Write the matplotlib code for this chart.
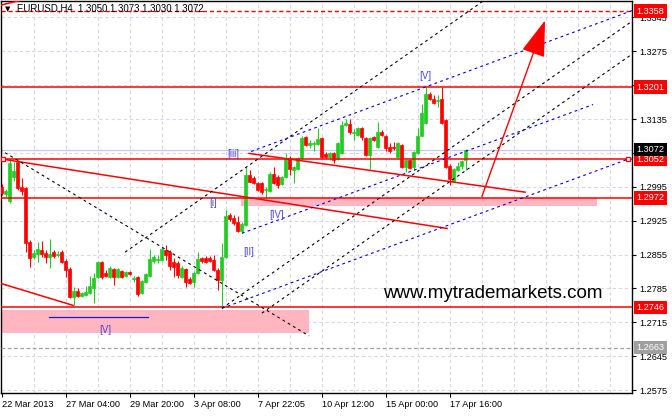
"""EURUSD H4 chart with Elliott wave markup, MT4 style."""

import matplotlib

matplotlib.use("Agg")
import matplotlib.pyplot as plt
from matplotlib.patches import Rectangle
from matplotlib.transforms import blended_transform_factory

# candle data (price), one H4 bar per index
opens = [
    1.2994, 1.2980, 1.2965, 1.3015, 1.3046, 1.2994, 1.2992, 1.2881, 1.2850, 1.2856,
    1.2864, 1.2858, 1.2850, 1.2860, 1.2854, 1.2860, 1.2841, 1.2825, 1.2767, 1.2779,
    1.2769, 1.2771, 1.2775, 1.2786, 1.2808, 1.2839, 1.2817, 1.2808, 1.2825, 1.2808,
    1.2821, 1.2810, 1.2819, 1.2805, 1.2808, 1.2775, 1.2798, 1.2810, 1.2841, 1.2844,
    1.2843, 1.2864, 1.2860, 1.2839, 1.2837, 1.2808, 1.2825, 1.2804, 1.2798, 1.2817,
    1.2847, 1.2847, 1.2847, 1.2843, 1.2823, 1.2802, 1.2850, 1.2936, 1.2930, 1.2922,
    1.2903, 1.2916, 1.3019, 1.3013, 1.3002, 1.3002, 1.2989, 1.2986, 1.3021, 1.3015,
    1.3000, 1.3015, 1.3054, 1.3029, 1.3031, 1.3054, 1.3097, 1.3081, 1.3083, 1.3083,
    1.3095, 1.3062, 1.3056, 1.3064, 1.3052, 1.3064, 1.3122, 1.3124, 1.3107, 1.3103,
    1.3116, 1.3095, 1.3060, 1.3097, 1.3077, 1.3108, 1.3101, 1.3077, 1.3077, 1.3056,
    1.3081, 1.3035, 1.3050, 1.3035, 1.3064, 1.3101, 1.3126, 1.3186, 1.3176, 1.3172,
    1.3176, 1.3134, 1.3039, 1.3008, 1.3029, 1.3039, 1.3050,
]
highs = [
    1.3000, 1.2990, 1.3050, 1.3046, 1.3050, 1.3013, 1.2994, 1.2885, 1.2864, 1.2881,
    1.2883, 1.2864, 1.2887, 1.2864, 1.2862, 1.2864, 1.2845, 1.2829, 1.2788, 1.2786,
    1.2777, 1.2790, 1.2810, 1.2817, 1.2841, 1.2841, 1.2823, 1.2831, 1.2827, 1.2827,
    1.2823, 1.2821, 1.2821, 1.2810, 1.2810, 1.2802, 1.2817, 1.2866, 1.2854, 1.2854,
    1.2870, 1.2874, 1.2864, 1.2847, 1.2841, 1.2831, 1.2827, 1.2808, 1.2821, 1.2860,
    1.2850, 1.2852, 1.2852, 1.2854, 1.2827, 1.2878, 1.2947, 1.2940, 1.2936, 1.2934,
    1.2922, 1.3037, 1.3029, 1.3017, 1.3006, 1.3006, 1.2994, 1.3025, 1.3035, 1.3019,
    1.3017, 1.3064, 1.3058, 1.3039, 1.3056, 1.3099, 1.3101, 1.3091, 1.3089, 1.3116,
    1.3097, 1.3066, 1.3066, 1.3066, 1.3087, 1.3132, 1.3136, 1.3136, 1.3114, 1.3118,
    1.3118, 1.3097, 1.3097, 1.3101, 1.3128, 1.3112, 1.3103, 1.3085, 1.3087, 1.3087,
    1.3083, 1.3052, 1.3052, 1.3068, 1.3116, 1.3167, 1.3201, 1.3190, 1.3184, 1.3184,
    1.3201, 1.3136, 1.3042, 1.3033, 1.3046, 1.3050, 1.3073,
]
lows = [
    1.2978, 1.2975, 1.2961, 1.3008, 1.2988, 1.2978, 1.2860, 1.2829, 1.2845, 1.2839,
    1.2850, 1.2837, 1.2827, 1.2847, 1.2850, 1.2837, 1.2808, 1.2765, 1.2750, 1.2767,
    1.2767, 1.2769, 1.2773, 1.2755, 1.2806, 1.2804, 1.2808, 1.2806, 1.2792, 1.2806,
    1.2806, 1.2808, 1.2812, 1.2798, 1.2769, 1.2773, 1.2796, 1.2808, 1.2837, 1.2837,
    1.2841, 1.2843, 1.2823, 1.2808, 1.2806, 1.2806, 1.2788, 1.2794, 1.2788, 1.2814,
    1.2837, 1.2837, 1.2839, 1.2821, 1.2781, 1.2745, 1.2847, 1.2924, 1.2916, 1.2901,
    1.2899, 1.2914, 1.3004, 1.3000, 1.2986, 1.2980, 1.2971, 1.2984, 1.3000, 1.2992,
    1.2998, 1.3013, 1.3019, 1.3002, 1.3029, 1.3052, 1.3079, 1.3075, 1.3070, 1.3081,
    1.3054, 1.3054, 1.3050, 1.3044, 1.3050, 1.3062, 1.3120, 1.3105, 1.3091, 1.3101,
    1.3091, 1.3058, 1.3031, 1.3089, 1.3075, 1.3101, 1.3070, 1.3064, 1.3072, 1.3054,
    1.3033, 1.3025, 1.3031, 1.3029, 1.3062, 1.3099, 1.3124, 1.3174, 1.3167, 1.3159,
    1.3124, 1.3033, 1.2998, 1.3004, 1.3027, 1.3031, 1.3030,
]
closes = [
    1.2982, 1.2986, 1.3044, 1.3027, 1.2992, 1.2986, 1.2878, 1.2847, 1.2858, 1.2866,
    1.2856, 1.2850, 1.2856, 1.2852, 1.2856, 1.2839, 1.2823, 1.2767, 1.2779, 1.2769,
    1.2775, 1.2777, 1.2790, 1.2806, 1.2839, 1.2808, 1.2810, 1.2827, 1.2808, 1.2825,
    1.2808, 1.2819, 1.2814, 1.2806, 1.2773, 1.2800, 1.2814, 1.2845, 1.2850, 1.2846,
    1.2866, 1.2854, 1.2831, 1.2829, 1.2812, 1.2827, 1.2798, 1.2796, 1.2817, 1.2845,
    1.2841, 1.2839, 1.2841, 1.2823, 1.2802, 1.2850, 1.2934, 1.2928, 1.2920, 1.2903,
    1.2918, 1.3019, 1.3006, 1.3002, 1.2988, 1.2984, 1.2990, 1.3021, 1.3002, 1.2998,
    1.3015, 1.3054, 1.3031, 1.3035, 1.3054, 1.3095, 1.3081, 1.3085, 1.3086, 1.3093,
    1.3056, 1.3056, 1.3064, 1.3050, 1.3085, 1.3122, 1.3126, 1.3108, 1.3108, 1.3116,
    1.3097, 1.3060, 1.3095, 1.3091, 1.3108, 1.3103, 1.3075, 1.3070, 1.3075, 1.3085,
    1.3035, 1.3050, 1.3033, 1.3066, 1.3101, 1.3147, 1.3186, 1.3176, 1.3169, 1.3174,
    1.3126, 1.3035, 1.3011, 1.3031, 1.3039, 1.3048, 1.3072,
]

date_bars = [0, 16, 32, 48, 64, 80, 96, 112]
date_labels = [
    "22 Mar 2013", "27 Mar 04:00", "29 Mar 20:00", "3 Apr 08:00",
    "7 Apr 22:05", "10 Apr 12:00", "15 Apr 00:00", "17 Apr 16:00",
]
price_ticks = [1.2575, 1.2645, 1.2715, 1.2785, 1.2855, 1.2925,
               1.2995, 1.3065, 1.3135, 1.3205, 1.3275, 1.3345]
# scale labels that sit fully under a price tag in the reference
hidden_ticks = [1.3065, 1.3205]

red_levels = [1.3201, 1.3052, 1.2972, 1.2746]
target_level = 1.3358
old_level = 1.2663
bid_price = 1.3072
title_text = "EURUSD,H4  1.3050 1.3073 1.3030 1.3072"

# drawn objects, (bar, price) endpoints
red_lines = [
    ((0.4, 1.3052), (111.4, 1.2909)),
    ((61.9, 1.3064), (130.9, 1.2984)),
    ((-0.4, 1.2796), (17.9, 1.2750)),
    ((-0.4, 1.3370), (4.6, 1.3380)),
]
black_lines = [
    ((-0.4, 1.3072), (76.9, 1.2687)),
    ((30.9, 1.2860), (120.6, 1.3380)),
    ((55.1, 1.2744), (157.6, 1.3337)),
    ((65.1, 1.2734), (157.6, 1.3269)),
]
blue_lines = [
    ((62.4, 1.3068), (157.6, 1.3359)),
    ((60.1, 1.2899), (147.9, 1.3165)),
    ((55.1, 1.2744), (156.6, 1.3052)),
]
wave_v_base = ((11.9, 1.2726), (36.6, 1.2726))
anchor_points = [(0.4, 1.3052), (156.6, 1.3052)]
arrow_tail = (120.1, 1.2975)
arrow_tip = (135.9, 1.3339)
zones = [((-0.4, 1.2693), (76.9, 1.2741)), ((59.9, 1.2955), (148.9, 1.2972))]
wave_labels = ["[iii]", "[i]", "[II]", "[IV]", "[V]", "[V]"]
wave_bars = [57.9, 52.9, 61.9, 68.9, 105.9, 25.9]
wave_prices = [1.3062, 1.2961, 1.2860, 1.2936, 1.3225, 1.2699]
watermark = "www.mytrademarkets.com"
watermark_at = (95.4, 1.2775)

plt.rcParams["font.family"] = ["Liberation Sans", "DejaVu Sans"]

BULL = "#22cc22"
BEAR = "#ff0000"
GRID = "#d6d6ee"
WAVE = "#4f46dc"

fig = plt.figure(figsize=(6.72, 4.16), dpi=100)
ax = fig.add_axes([1 / 672, 23 / 416, 631 / 672, 392.5 / 416])
ax.set_xlim(-0.125, 157.625)
ax.set_ylim(1.2569, 1.3380)

# grid
for bar in range(8, 158, 8):
    ax.axvline(bar, color=GRID, lw=0.8, dashes=(3, 2.5), zorder=0)
for price in price_ticks:
    ax.axhline(price, color=GRID, lw=0.8, dashes=(3, 2.5), zorder=0)

# zones
for (x0, y0), (x1, y1) in zones:
    ax.add_patch(Rectangle((x0, y0), x1 - x0, y1 - y0, facecolor="#ffb6c1",
                           edgecolor="none", zorder=1))

ax.axhline(bid_price, color="#c8c8ee", lw=0.9, zorder=1)

# candles
xs = list(range(len(opens)))
colors = [BULL if c >= o else BEAR for o, c in zip(opens, closes)]
ax.vlines(xs, lows, highs, colors=colors, lw=0.8, zorder=3)
bottoms = [min(o, c) for o, c in zip(opens, closes)]
heights = [abs(c - o) for o, c in zip(opens, closes)]
ax.bar(xs, heights, bottom=bottoms, width=0.75, color=colors,
       edgecolor=colors, lw=0.5, zorder=3)

# horizontal levels
for level in red_levels:
    ax.axhline(level, color="red", lw=1.1, zorder=4)
ax.axhline(target_level, color="red", lw=1.0, dashes=(3, 2), zorder=4)
ax.axhline(old_level, color="#a0a0a0", lw=0.9, dashes=(3, 2), zorder=4)

for (x0, y0), (x1, y1) in red_lines:
    ax.plot([x0, x1], [y0, y1], color="red", lw=1.1, zorder=4)
for (x0, y0), (x1, y1) in black_lines:
    ax.plot([x0, x1], [y0, y1], color="black", lw=0.8, dashes=(2.5, 3), zorder=4)
for (x0, y0), (x1, y1) in blue_lines:
    ax.plot([x0, x1], [y0, y1], color="#0000e0", lw=0.8, dashes=(2.5, 3), zorder=4)
(bx0, by0), (bx1, by1) = wave_v_base
ax.plot([bx0, bx1], [by0, by1], color="#1a1acc", lw=0.9, zorder=4)

for x, y in anchor_points:
    ax.plot(x, y, marker="s", ms=3.5, mfc="white", mec="red", mew=0.9, zorder=5,
            clip_on=False)

ax.annotate("", xy=arrow_tip, xytext=arrow_tail, zorder=5,
            arrowprops=dict(arrowstyle="-|>,head_length=2.3,head_width=0.75",
                            mutation_scale=10, color="red", lw=1.0,
                            shrinkA=0, shrinkB=0))

for text, x, y in zip(wave_labels, wave_bars, wave_prices):
    ax.text(x, y, text, color=WAVE, fontsize=7, ha="center", va="center", zorder=6)

ax.text(watermark_at[0], watermark_at[1], watermark, fontsize=13.5,
        ha="left", va="center", color="black", zorder=6)

ax.text(0.006, 0.978, "\u25bc", transform=ax.transAxes, fontsize=5,
        family="DejaVu Sans", ha="left", va="center", zorder=7)
ax.text(0.026, 0.979, title_text, transform=ax.transAxes, fontsize=6.9,
        ha="left", va="center", zorder=7)

# axes
ax.set_xticks(date_bars)
ax.set_xticklabels(date_labels, ha="left")
ax.set_yticks(price_ticks)
ax.set_yticklabels(["" if p in hidden_ticks else f"{p:.4f}" for p in price_ticks])
ax.yaxis.tick_right()
ax.tick_params(axis="x", length=3, width=0.8, pad=2, labelsize=6.6)
ax.tick_params(axis="y", length=3, width=0.8, pad=2.5, labelsize=6.6)
for spine in ax.spines.values():
    spine.set_linewidth(1.0)

# price tags on the right scale
trans = blended_transform_factory(ax.transAxes, ax.transData)
tags = [(p, "red") for p in red_levels]
tags += [(target_level, "red"), (old_level, "#a0a0a0"), (bid_price, "black")]
for price, face in tags:
    ax.text(1.0075, price, f"{price:.4f}", transform=trans, fontsize=6.6,
            color="white", ha="left", va="center", clip_on=False, zorder=8,
            bbox=dict(boxstyle="square,pad=0.25", fc=face, ec="none"))

fig.savefig("out.png", dpi=100, facecolor="white")
